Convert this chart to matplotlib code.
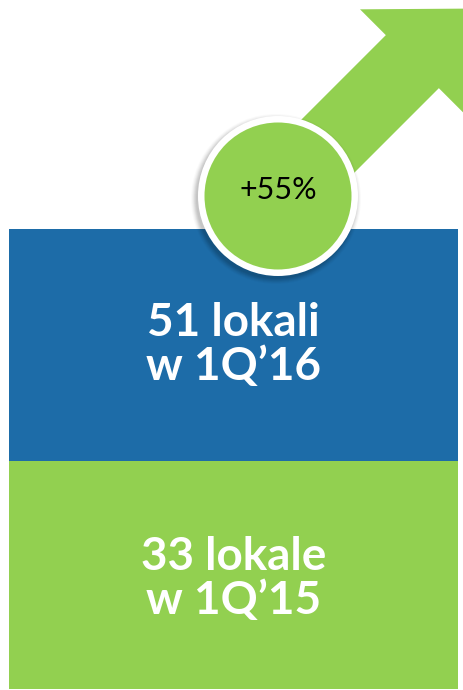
import numpy as np
import matplotlib.pyplot as plt
from matplotlib.patches import Circle, FancyArrow

# dane
periods = ["1Q'16", "1Q'15"]
counts = [51, 33]
nouns = ["lokali", "lokale"]
colors = ["#1D6CA8", "#92D050"]

growth = (counts[0] / counts[1] - 1) * 100
growth_label = "+%d%%" % round(growth)

W, H = 463, 690
fig = plt.figure(figsize=(W / 100, H / 100), dpi=100)
ax = fig.add_axes([0, 0, 1, 1])
ax.set_xlim(0, W)
ax.set_ylim(H, 0)
ax.set_aspect('auto')
ax.axis('off')

# bloki (pozycje w pikselach)
box_left, box_right = 9, 458
box_tops = [229, 461]
box_bottoms = [461, 689]
for i in range(len(counts)):
    h = box_bottoms[i] - box_tops[i]
    ax.bar((box_left + box_right) / 2, h, width=box_right - box_left,
           bottom=box_tops[i], color=colors[i], zorder=1)
    label = "%d %s\nw 1Q\u2019%s" % (counts[i], nouns[i], periods[i][-2:])
    ax.text((box_left + box_right) / 2, (box_tops[i] + box_bottoms[i]) / 2 + (0 if i == 0 else 4),
            label, color='white', fontsize=33, fontweight='bold', family=['Lato', 'DejaVu Sans'],
            ha='center', va='center', multialignment='center', linespacing=1.05, zorder=3)

# strzalka
cx, cy = 278, 196
L = 265
d = L / np.sqrt(2)
arr = FancyArrow(cx, cy, d, -d, width=75, head_width=148, head_length=75,
                 length_includes_head=True, color=colors[1], lw=0, zorder=2)
ax.add_patch(arr)

# cien kola
for k, a in zip(range(6), [0.05, 0.05, 0.05, 0.04, 0.03, 0.02]):
    ax.add_patch(Circle((cx - 2, cy + 3), 80 + k, color='black', alpha=a, lw=0, zorder=4))
ax.add_patch(Circle((cx, cy), 80, color='white', lw=0, zorder=5))
ax.add_patch(Circle((cx, cy), 73.5, color=colors[1], lw=0, zorder=6))
ax.text(cx, cy - 6, growth_label, fontsize=22, fontweight='normal', family=['Lato', 'DejaVu Sans'],
        color='black', ha='center', va='center', zorder=7)

fig.savefig('out.png', dpi=100)
